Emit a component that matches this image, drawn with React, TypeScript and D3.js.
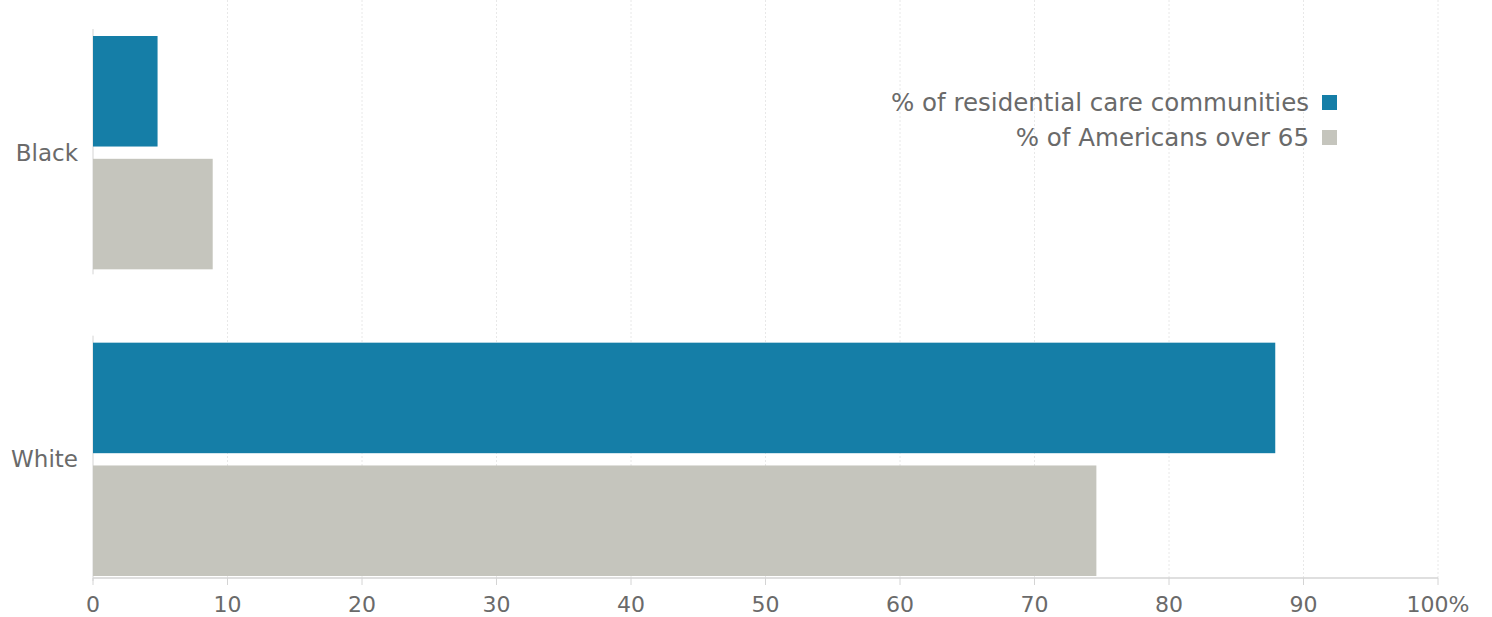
import React, { useEffect, useRef } from "react";
import * as d3 from "d3";

const categories = ["Black", "White"];
const seriesNames = ["% of residential care communities", "% of Americans over 65"];
const careValues = [4.8, 87.9];
const populationValues = [8.9, 74.6];
const tickValues = [0, 10, 20, 30, 40, 50, 60, 70, 80, 90, 100];
const seriesColors = ["#157ea7", "#c5c5bd"];

const W = 1492;
const H = 617;

export default function App() {
  const ref = useRef<SVGSVGElement>(null);
  useEffect(() => {
    const svg = d3.select(ref.current);
    svg.selectAll("*").remove();
    const font = "'DejaVu Sans', sans-serif";
    const x = d3.scaleLinear().domain([0, 100]).range([93, 1438]);
    const y = d3.scaleBand<string>().domain(categories).range([29, 581]).paddingInner(0.2).paddingOuter(0);
    const inner = d3
      .scaleBand<number>()
      .domain([0, 1])
      .range([7, y.bandwidth() - 5])
      .paddingInner(0.1);
    const axisY = 578;

    svg
      .append("g")
      .selectAll("line")
      .data(tickValues.filter((t) => t > 0))
      .join("line")
      .attr("x1", (d) => x(d))
      .attr("x2", (d) => x(d))
      .attr("y1", 0)
      .attr("y2", axisY)
      .attr("stroke", "#e8e8e8")
      .attr("stroke-width", 1)
      .attr("stroke-dasharray", "2,2");

    const data = categories.map((c, i) => ({ cat: c, vals: [careValues[i], populationValues[i]] }));

    const groups = svg
      .append("g")
      .selectAll("g")
      .data(data)
      .join("g")
      .attr("transform", (d) => `translate(0,${y(d.cat)})`);

    groups
      .append("line")
      .attr("x1", x(0))
      .attr("x2", x(0))
      .attr("y1", 0)
      .attr("y2", y.bandwidth())
      .attr("stroke", "#d4d4d4")
      .attr("stroke-width", 1);

    groups
      .selectAll("rect")
      .data((d) => d.vals.map((v, j) => ({ v, j })))
      .join("rect")
      .attr("x", x(0))
      .attr("y", (d) => inner(d.j)!)
      .attr("width", (d) => x(d.v) - x(0))
      .attr("height", inner.bandwidth())
      .attr("fill", (d) => seriesColors[d.j]);

    groups
      .append("text")
      .attr("x", 78)
      .attr("y", inner(1)! - (inner.step() - inner.bandwidth()) / 2)
      .attr("dy", "0.35em")
      .attr("text-anchor", "end")
      .attr("font-family", font)
      .attr("font-size", 23)
      .attr("fill", "#6a6a6a")
      .text((d) => d.cat);

    const ax = svg.append("g").attr("transform", `translate(0,${axisY})`);
    ax.append("line").attr("x1", x(0)).attr("x2", x(100)).attr("stroke", "#d4d4d4").attr("stroke-width", 1.5);
    ax.selectAll("line.tick")
      .data(tickValues)
      .join("line")
      .attr("class", "tick")
      .attr("x1", (d) => x(d))
      .attr("x2", (d) => x(d))
      .attr("y1", 0)
      .attr("y2", 7)
      .attr("stroke", "#d4d4d4");
    ax.selectAll("text")
      .data(tickValues)
      .join("text")
      .attr("x", (d) => x(d))
      .attr("y", 34)
      .attr("text-anchor", "middle")
      .attr("font-family", font)
      .attr("font-size", 22)
      .attr("fill", "#6a6a6a")
      .text((d) => (d === 100 ? "100%" : String(d)));

    const leg = svg.append("g");
    seriesNames.forEach((name, i) => {
      const ly = 102 + i * 35;
      leg
        .append("text")
        .attr("x", 1309)
        .attr("y", ly)
        .attr("dy", "0.35em")
        .attr("text-anchor", "end")
        .attr("font-family", font)
        .attr("font-size", 24.5)
        .attr("fill", "#6a6a6a")
        .text(name);
      leg
        .append("rect")
        .attr("x", 1322)
        .attr("y", ly - 7)
        .attr("width", 15)
        .attr("height", 15)
        .attr("fill", seriesColors[i]);
    });
  }, []);

  return (
    <div style={{ position: "absolute", left: 0, top: 0 }}>
      <svg ref={ref} width={W} height={H} style={{ display: "block", background: "#fff" }} />
    </div>
  );
}
